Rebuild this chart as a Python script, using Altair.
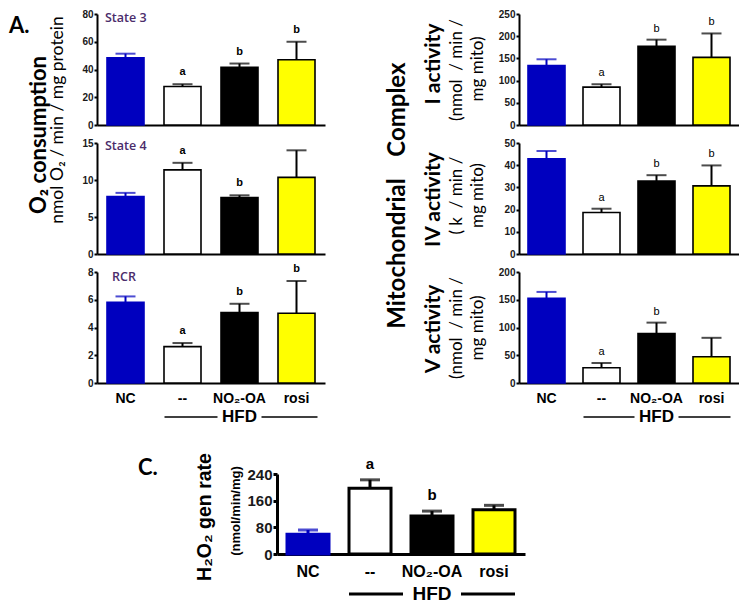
import altair as alt
import pandas as pd

cats = ["NC", "--", "NO₂-OA", "rosi"]

state3_mean = [48.4, 27.8, 41.6, 47.0]
state3_err = [3.0, 1.6, 2.7, 13.0]
state3_sig = ["", "a", "b", "b"]
state3_ticks = [0, 20, 40, 60, 80]

state4_mean = [7.76, 11.37, 7.63, 10.36]
state4_err = [0.5, 0.95, 0.3, 3.65]
state4_sig = ["", "a", "b", ""]
state4_ticks = [0, 5, 10, 15]

rcr_mean = [5.82, 2.62, 5.07, 5.03]
rcr_err = [0.42, 0.26, 0.64, 2.32]
rcr_sig = ["", "a", "b", "b"]
rcr_ticks = [0, 2, 4, 6, 8]

c1_mean = [134, 85.4, 177.2, 152.2]
c1_err = [14, 6.4, 15, 54]
c1_sig = ["", "a", "b", "b"]
c1_ticks = [0, 50, 100, 150, 200, 250]

c4_mean = [42.9, 18.7, 32.9, 30.7]
c4_err = [3.5, 1.7, 2.6, 9.2]
c4_sig = ["", "a", "b", "b"]
c4_ticks = [0, 10, 20, 30, 40, 50]

c5_mean = [152.8, 27.4, 89.2, 47.2]
c5_err = [11.3, 8.6, 19.6, 34.2]
c5_sig = ["", "a", "b", ""]
c5_ticks = [0, 50, 100, 150, 200]

h2o2_mean = [59, 197.5, 113.7, 133]
h2o2_err = [13, 25, 15, 13]
h2o2_sig = ["", "a", "b", ""]
h2o2_ticks = [0, 80, 160, 240]

BLUE = "#0000BF"
fills = [BLUE, "#FFFFFF", "#000000", "#FFFF00"]
strokes = [BLUE, "#000000", "#000000", "#000000"]
PURPLE = "#4B2C6B"
dummy = pd.DataFrame({"d": [0]})


def txt(text, x, y, size, font="Lato", weight="bold", angle=0, align="center", color="black"):
    return alt.Chart(dummy).mark_text(
        text=text, font=font, fontSize=size, fontWeight=weight, angle=angle,
        align=align, baseline="middle", color=color
    ).encode(x=alt.value(x), y=alt.value(y))


def hrule(x1, x2, y, width):
    return alt.Chart(dummy).mark_rule(color="black", strokeWidth=width).encode(
        x=alt.value(x1), x2=alt.value(x2), y=alt.value(y))


def anchor(x, y):
    return alt.Chart(dummy).mark_rule(opacity=0, strokeWidth=1).encode(
        x=alt.value(x), x2=alt.value(x + 1), y=alt.value(y), y2=alt.value(y + 1))


def hfd(x0, w, y, size, lw, gap, lpad, rpad):
    step = w / 4
    c1, c2, c3 = x0 + 1.5 * step, x0 + 2.5 * step, x0 + 3.5 * step
    return [hrule(c1 - lpad, c2 - gap, y, lw), hrule(c2 + gap, c3 + rpad, y, lw),
            txt("HFD", c2, y, size, font="Liberation Sans")]


def panel(mean, err, sig, ticks, w, h, bar_frac, show_x, big=False, letter_weight="bold",
          letter_dy=-12, xrange=None, yrange=None, yoffset=0, extra=()):
    df = pd.DataFrame({"cat": cats, "mean": mean,
                       "top": [m + e for m, e in zip(mean, err)], "sig": sig})
    pi = 1 - bar_frac
    axis_w = 3 if big else 2
    xs_kw = dict(domain=cats, paddingInner=pi, paddingOuter=pi / 2)
    if xrange is not None:
        xs_kw["range"] = xrange
    xs = alt.Scale(**xs_kw)
    xax = alt.Axis(title=None, labels=show_x, ticks=False, tickSize=0, domainColor="black",
                   domainWidth=axis_w, labelFont="Liberation Sans", labelFontWeight="bold",
                   labelFontSize=16 if big else 14, labelColor="black", labelAngle=0,
                   labelBaseline="middle", labelPadding=17 if big else 15)
    yax = alt.Axis(title=None, values=ticks, grid=False, domainColor="black", domainWidth=axis_w,
                   tickColor="black", tickWidth=axis_w, tickSize=4 if big else 3,
                   labelFont="Liberation Sans", labelFontWeight="bold",
                   labelFontSize=15 if big else 10, labelColor="#1a1a1a", labelPadding=1,
                   labelOverlap=False, offset=yoffset)
    ys_kw = dict(domain=[0, ticks[-1]], nice=False, zero=True)
    if yrange is not None:
        ys_kw["range"] = yrange
    ys = alt.Scale(**ys_kw)
    X = alt.X("cat:N", sort=cats, scale=xs, axis=xax)
    col = alt.Color("cat:N", scale=alt.Scale(domain=cats, range=strokes), legend=None)
    base = alt.Chart(df)
    bars = base.mark_bar(strokeWidth=3 if big else 1.6).encode(
        x=X, y=alt.Y("mean:Q", scale=ys, axis=yax),
        fill=alt.Fill("cat:N", scale=alt.Scale(domain=cats, range=fills), legend=None),
        stroke=alt.Stroke("cat:N", scale=alt.Scale(domain=cats, range=strokes), legend=None))
    stem = base.mark_rule(strokeWidth=3 if big else 2).encode(
        x=X, y=alt.Y("mean:Q", scale=ys, axis=yax), y2="top:Q", color=col)
    cap = base.mark_tick(orient="horizontal", size=20, thickness=3 if big else 2).encode(
        x=X, y=alt.Y("top:Q", scale=ys, axis=yax), color=col)
    letters = base.transform_filter("datum.sig != ''").mark_text(
        font="Liberation Sans", fontWeight=letter_weight, fontSize=15 if big else 11,
        dy=letter_dy, color="black").encode(
        x=X, y=alt.Y("top:Q", scale=ys, axis=yax), text="sig:N")
    return alt.layer(bars, stem, cap, letters, *extra).properties(width=w, height=h)


HA = 111
WA = 228
WB = 220
# panel C: plot placed inside its grid cell via explicit scale ranges
CX0 = 180
WC = 248
CY0 = 73
HC = 80
HC_TOTAL = CY0 + HC

A1 = panel(state3_mean, state3_err, state3_sig, state3_ticks, WA, HA, 37 / 57, False, extra=[
    anchor(-89, -6),
    txt("A.", -88, 12, 22, align="left"),
    txt("O₂ consumption", -58, 121, 22, angle=270),
    txt("nmol O₂ / min / mg protein", -39, 106, 17.5, weight="normal", angle=270),
    txt("State 3", 8, 4, 12.5, font="Open Sans", weight=600, align="left", color=PURPLE),
])
A2 = panel(state4_mean, state4_err, state4_sig, state4_ticks, WA, HA, 37 / 57, False, extra=[
    txt("State 4", 8, 2.5, 12.5, font="Open Sans", weight=600, align="left", color=PURPLE),
])
A3 = panel(rcr_mean, rcr_err, rcr_sig, rcr_ticks, WA, HA, 37 / 57, True, extra=[
    txt("RCR", 15, 4.5, 12.5, font="Open Sans", weight=600, align="left", color=PURPLE),
    *hfd(0, WA, HA + 34, 17, 1.6, 22, 18, 21),
])

B1 = panel(c1_mean, c1_err, c1_sig, c1_ticks, WB, HA, 37 / 55, False, letter_weight="normal",
           letter_dy=-11, extra=[
    txt("Complex", -121, 95.6, 24, angle=270),
    txt("Mitochondrial", -121, 239.6, 24, angle=270),
    txt("I activity", -85, 50, 21, angle=270),
    txt("(nmol\u00a0\u00a0/ min /", -62, 56, 17, weight="normal", angle=270),
    txt("mg mito)", -41, 55, 17, weight="normal", angle=270),
])
B2 = panel(c4_mean, c4_err, c4_sig, c4_ticks, WB, HA, 37 / 55, False, letter_weight="normal",
           letter_dy=-11, extra=[
    txt("IV activity", -85, 56.5, 21, angle=270),
    txt("(\u00a0k\u00a0\u00a0/ min /", -62, 52.6, 17, weight="normal", angle=270),
    txt("mg mito)", -41, 52.6, 17, weight="normal", angle=270),
])
B3 = panel(c5_mean, c5_err, c5_sig, c5_ticks, WB, HA, 37 / 55, True, letter_weight="normal",
           letter_dy=-11, extra=[
    txt("V activity", -85, 57, 21, angle=270),
    txt("(nmol\u00a0\u00a0/ min /", -62, 56, 17, weight="normal", angle=270),
    txt("mg mito)", -41, 56, 17, weight="normal", angle=270),
    *hfd(0, WB, HA + 34, 17, 1.6, 22, 18, 19),
])

C = panel(h2o2_mean, h2o2_err, h2o2_sig, h2o2_ticks, WA, HC_TOTAL, 42 / 62, True, big=True,
          letter_dy=-16, xrange=[CX0, CX0 + WC], yrange=[HC_TOTAL, CY0], yoffset=-CX0, extra=[
    txt("C.", CX0 - 139, CY0 - 6, 22, align="left"),
    txt("H₂O₂ gen rate", CX0 - 72, CY0 + 43, 19.5, font="Liberation Sans", angle=270),
    txt("(nmol/min/mg)", CX0 - 41, CY0 + 37, 13, font="Liberation Sans", angle=270),
    *hfd(CX0, WC, HC_TOTAL + 40, 19, 3, 29, 21, 21),
])

chart = alt.concat(A1, B1, A2, B2, A3, B3, C, columns=2,
                   spacing={"row": 18, "column": 194}, bounds="flush").properties(
    padding=0).configure_view(stroke=None).configure_axis(grid=False)

chart.save("out.html", embed_options={"renderer": "svg", "actions": False})
